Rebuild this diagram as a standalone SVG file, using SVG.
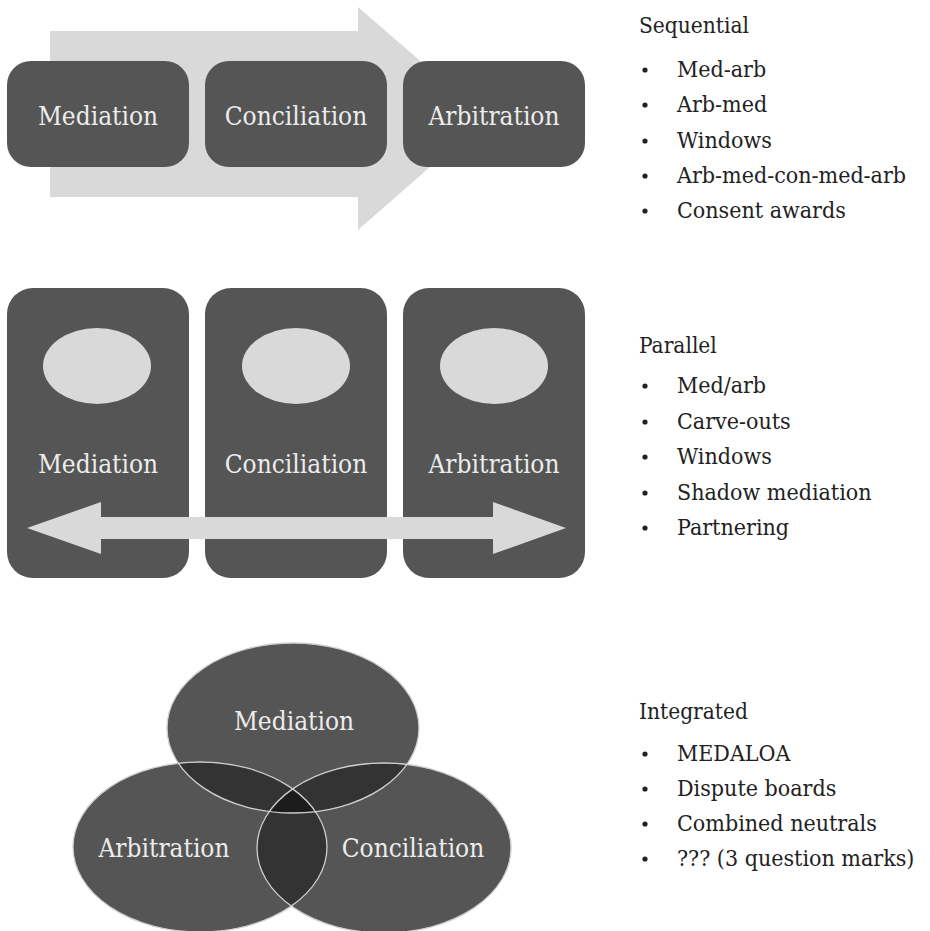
<svg xmlns="http://www.w3.org/2000/svg" width="930" height="931" viewBox="0 0 930 931">
<style>
.box{fill:#555555}
.light{fill:#d9d9d9}
.lbl{font-family:'DejaVu Serif Condensed','DejaVu Serif',serif;font-stretch:condensed;font-size:26px;fill:#ececec;text-anchor:middle}
.hd{font-family:'DejaVu Serif Condensed','DejaVu Serif',serif;font-stretch:condensed;font-size:22.5px;fill:#222}
.it{font-family:'DejaVu Serif Condensed','DejaVu Serif',serif;font-stretch:condensed;font-size:23px;fill:#222}
.bul{fill:#222}
.ring{fill:none;stroke:#cfcfcf;stroke-width:1.3}
</style>
<defs>
<clipPath id="cM"><ellipse cx="293" cy="728" rx="126" ry="85"/></clipPath>
<clipPath id="cA"><ellipse cx="200" cy="847" rx="127" ry="85"/></clipPath>
</defs>
<rect width="930" height="931" fill="#ffffff"/>

<g id="connectors">
<polygon id="seq-arrow" class="light" points="50,31 358,31 358,7 486,118 358,230 358,197 50,197"/>
</g>

<g id="seq-mediation"><rect class="box" x="7" y="61" width="182" height="106" rx="24"/><text class="lbl" x="98" y="125">Mediation</text></g>
<g id="seq-conciliation"><rect class="box" x="205" y="61" width="182" height="106" rx="24"/><text class="lbl" x="296" y="125">Conciliation</text></g>
<g id="seq-arbitration"><rect class="box" x="403" y="61" width="182" height="106" rx="24"/><text class="lbl" x="494" y="125">Arbitration</text></g>

<g id="par-mediation"><rect class="box" x="7" y="288" width="182" height="290" rx="26"/><ellipse class="light" cx="97" cy="366" rx="54" ry="38"/><text class="lbl" x="98" y="473">Mediation</text></g>
<g id="par-conciliation"><rect class="box" x="205" y="288" width="182" height="290" rx="26"/><ellipse class="light" cx="296" cy="366" rx="54" ry="38"/><text class="lbl" x="296" y="473">Conciliation</text></g>
<g id="par-arbitration"><rect class="box" x="403" y="288" width="182" height="290" rx="26"/><ellipse class="light" cx="494" cy="366" rx="54" ry="38"/><text class="lbl" x="494" y="473">Arbitration</text></g>

<g id="connectors-2">
<polygon id="par-arrow" class="light" points="27,528 101,502 101,517 493,517 493,502 566,528 493,554 493,539 101,539 101,554"/>
</g>

<g id="venn">
<g id="int-mediation"><ellipse fill="#555555" cx="293" cy="728" rx="126" ry="85"/></g>
<g id="int-arbitration"><ellipse fill="#555555" cx="200" cy="847" rx="127" ry="85"/></g>
<g id="int-conciliation"><ellipse fill="#555555" cx="384" cy="848" rx="127" ry="85"/></g>
<ellipse fill="#333333" cx="200" cy="847" rx="127" ry="85" clip-path="url(#cM)"/>
<ellipse fill="#333333" cx="384" cy="848" rx="127" ry="85" clip-path="url(#cM)"/>
<ellipse fill="#333333" cx="384" cy="848" rx="127" ry="85" clip-path="url(#cA)"/>
<g clip-path="url(#cM)"><ellipse fill="#1c1c1c" cx="384" cy="848" rx="127" ry="85" clip-path="url(#cA)"/></g>
<ellipse class="ring" cx="293" cy="728" rx="126" ry="85"/>
<ellipse class="ring" cx="200" cy="847" rx="127" ry="85"/>
<ellipse class="ring" cx="384" cy="848" rx="127" ry="85"/>
<text class="lbl" x="294" y="730">Mediation</text>
<text class="lbl" x="164" y="857">Arbitration</text>
<text class="lbl" x="413" y="857">Conciliation</text>
</g>

<g id="list-sequential">
<text class="hd" x="639" y="33">Sequential</text>
<circle class="bul" cx="645" cy="70" r="2.6"/><text class="it" x="677" y="77">Med-arb</text>
<circle class="bul" cx="645" cy="105" r="2.6"/><text class="it" x="677" y="112">Arb-med</text>
<circle class="bul" cx="645" cy="141" r="2.6"/><text class="it" x="677" y="148">Windows</text>
<circle class="bul" cx="645" cy="176" r="2.6"/><text class="it" x="677" y="183">Arb-med-con-med-arb</text>
<circle class="bul" cx="645" cy="211" r="2.6"/><text class="it" x="677" y="218">Consent awards</text>
</g>

<g id="list-parallel">
<text class="hd" x="639" y="353">Parallel</text>
<circle class="bul" cx="645" cy="386" r="2.6"/><text class="it" x="677" y="393">Med/arb</text>
<circle class="bul" cx="645" cy="422" r="2.6"/><text class="it" x="677" y="429">Carve-outs</text>
<circle class="bul" cx="645" cy="457" r="2.6"/><text class="it" x="677" y="464">Windows</text>
<circle class="bul" cx="645" cy="493" r="2.6"/><text class="it" x="677" y="500">Shadow mediation</text>
<circle class="bul" cx="645" cy="528" r="2.6"/><text class="it" x="677" y="535">Partnering</text>
</g>

<g id="list-integrated">
<text class="hd" x="639" y="719">Integrated</text>
<circle class="bul" cx="645" cy="754" r="2.6"/><text class="it" x="677" y="761">MEDALOA</text>
<circle class="bul" cx="645" cy="789" r="2.6"/><text class="it" x="677" y="796">Dispute boards</text>
<circle class="bul" cx="645" cy="824" r="2.6"/><text class="it" x="677" y="831">Combined neutrals</text>
<circle class="bul" cx="645" cy="859" r="2.6"/><text class="it" x="677" y="866">??? (3 question marks)</text>
</g>
</svg>
